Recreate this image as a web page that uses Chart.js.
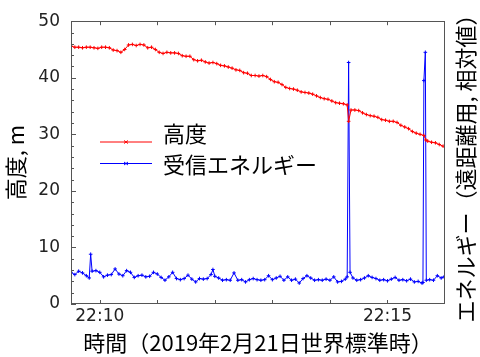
<!DOCTYPE html>
<html><head><meta charset="utf-8">
<script src="https://cdn.jsdelivr.net/npm/chart.js@4"></script>
<style>html,body{margin:0;padding:0;background:#fff}#wrap{width:480px;height:357px}</style>
</head><body><div id="wrap"><canvas id="c" width="480" height="357"></canvas></div>
<script>
// time in seconds after 22:09:30 UTC
const altitudeTime = [0,4,8,12,16,20,24,28,32,36,40,44,48,52,56,60,64,68,72,76,80,84,88,92,96,100,104,108,112,116,120,124,128,132,136,140,144,148,152,156,160,164,168,172,176,180,184,188,192,196,200,204,208,212,216,220,224,228,232,236,240,244,248,252,256,260,264,268,272,276,280,284,288,289.5,292,296,300,304,308,312,316,320,324,328,332,336,340,344,348,352,356,360,364,368,370,372,376,380,384,388];
const altitudeValues = [45.6,45.4,45.4,45.3,45.4,45.4,45.3,45.2,45.4,45.4,45.3,44.9,44.8,44.5,45.0,45.8,45.9,45.7,45.9,45.8,45.3,45.4,45.0,44.5,44.3,44.5,44.4,44.4,44.3,43.9,43.8,43.8,43.2,43.0,43.1,42.8,42.6,42.7,42.5,42.2,42.1,41.9,41.7,41.4,41.3,40.9,40.8,40.4,40.4,40.3,40.4,40.2,39.7,39.3,39.2,38.8,38.3,38.1,38.0,37.8,37.5,37.4,37.3,37.1,36.8,36.5,36.3,36.2,35.9,35.6,35.5,35.4,35.2,32.3,34.3,34.3,34.2,33.8,33.5,33.3,33.2,33.0,32.6,32.5,32.3,32.3,32.1,31.6,31.3,31.0,30.5,30.2,30.0,29.8,29.0,28.8,28.6,28.5,28.2,27.9];
const energyTime = [0,4,8,12,16,19,20.5,22,26,30,34,38,42,46,50,54,58,62,66,70,74,78,82,86,90,94,98,102,106,110,114,118,122,126,130,134,138,142,146,148,150,154,158,162,166,170,174,178,182,186,190,194,198,202,206,210,214,218,222,226,230,234,238,242,246,250,254,258,262,266,270,274,278,282,286,288,289.5,291,294,298,302,306,310,314,318,322,326,330,334,338,342,346,350,354,358,362,366,367,368,369.5,370.5,374,378,382,386,389];
const energyValues = [5.6,5.2,5.8,5.5,5.0,4.6,8.8,5.8,5.9,5.6,4.8,5.1,5.2,6.2,5.3,5.0,5.9,5.6,4.7,5.0,5.1,4.8,4.9,5.6,5.3,4.7,4.2,4.8,5.6,4.5,4.3,4.5,5.1,4.4,3.9,4.5,4.4,4.5,5.2,6.1,4.9,4.6,4.2,4.3,4.2,5.5,4.2,4.3,3.9,4.3,4.5,4.3,4.2,4.3,5.0,4.3,4.6,4.9,4.2,4.8,4.2,4.4,3.7,4.5,5.0,4.6,4.2,4.3,4.2,4.4,4.2,4.8,3.9,4.0,4.4,4.8,42.7,5.6,4.6,4.2,4.3,4.6,5.0,4.7,4.5,4.2,4.3,4.1,4.4,4.7,4.2,4.3,4.1,4.4,3.9,4.0,3.7,3.8,39.5,44.5,4.2,4.3,4.2,5.0,4.6,4.8];
const xTickValues = [30,90,150,210,270,330];
const xTickLabels = ['22:10','','','','','22:15'];
const seriesNames = ['高度','受信エネルギー'];
const xTitle = '時間（2019年2月21日世界標準時）';
const yTitle = '高度, m';
const y2Title = 'エネルギー（遠距離用, 相対値）';

const RED = 'rgb(255,0,0)', BLUE = 'rgb(0,0,255)';
const CJK = "'Noto Sans CJK JP', 'Noto Sans', sans-serif";

const toPts = (t, v) => t.map((x, i) => ({x, y: v[i]}));

const deco = {
  id: 'deco',
  afterDatasetsDraw(chart) {
    const {ctx, chartArea: a, scales: {x, y}} = chart;
    ctx.save();
    ctx.strokeStyle = '#555';
    ctx.lineWidth = 1;
    ctx.beginPath();
    x.ticks.forEach(t => {
      const px = Math.round(x.getPixelForValue(t.value)) + 0.5;
      ctx.moveTo(px, a.bottom); ctx.lineTo(px, a.bottom - 4);
      ctx.moveTo(px, a.top); ctx.lineTo(px, a.top + 4);
    });
    y.ticks.forEach(t => {
      const py = Math.round(y.getPixelForValue(t.value)) + 0.5;
      const len = t.value % 10 === 0 ? 5 : 3;
      ctx.moveTo(a.left, py); ctx.lineTo(a.left + len, py);
    });
    ctx.stroke();
    ctx.strokeRect(Math.round(a.left) + 0.5, Math.round(a.top) + 0.5,
      Math.round(a.right - a.left) - 1, Math.round(a.bottom - a.top) - 1);

    // legend
    const rows = [{c: RED, ly: 142, ty: 134}, {c: BLUE, ly: 163.5, ty: 165}];
    ctx.font = '22px ' + CJK;
    ctx.textBaseline = 'middle';
    ctx.textAlign = 'left';
    rows.forEach((r, i) => {
      ctx.strokeStyle = r.c;
      ctx.beginPath();
      ctx.moveTo(a.left + 29, r.ly); ctx.lineTo(a.left + 81, r.ly);
      ctx.stroke();
      ctx.beginPath();
      ctx.moveTo(a.left + 53, r.ly - 1.5); ctx.lineTo(a.left + 57, r.ly + 1.5);
      ctx.moveTo(a.left + 57, r.ly - 1.5); ctx.lineTo(a.left + 53, r.ly + 1.5);
      ctx.stroke();
      ctx.fillStyle = '#000';
      ctx.fillText(seriesNames[i], a.left + 92, r.ty);
    });

    // right title
    ctx.translate(466, 163);
    ctx.rotate(-Math.PI / 2);
    ctx.textAlign = 'center';
    ctx.fillText(y2Title, 0, 0);
    ctx.restore();
  }
};

new Chart(document.getElementById('c'), {
  type: 'line',
  data: {
    datasets: [
      {label: seriesNames[0], data: toPts(altitudeTime, altitudeValues), borderColor: RED, backgroundColor: RED,
       borderWidth: 1, pointStyle: 'cross', pointRadius: 1.8, pointBorderWidth: 1, pointBorderColor: RED, tension: 0},
      {label: seriesNames[1], data: toPts(energyTime, energyValues), borderColor: BLUE, backgroundColor: BLUE,
       borderWidth: 1, pointStyle: 'cross', pointRadius: 1.8, pointBorderWidth: 1, pointBorderColor: BLUE, tension: 0}
    ]
  },
  options: {
    responsive: false,
    animation: false,
    devicePixelRatio: 1,
    layout: {padding: {top: 16, right: 35, bottom: 0, left: 0}},
    plugins: {legend: {display: false}, tooltip: {enabled: false}},
    scales: {
      x: {
        type: 'linear', min: 0, max: 390,
        afterBuildTicks: s => { s.ticks = xTickValues.map(v => ({value: v})); },
        afterFit: s => { s.height = 53; },
        grid: {display: false, drawTicks: false},
        border: {display: false},
        ticks: {
          autoSkip: false, maxRotation: 0, padding: 2,
          color: '#222', font: {family: "'DejaVu Sans'", size: 17},
          callback: v => { const i = xTickValues.indexOf(v); return i >= 0 ? xTickLabels[i] : ''; }
        },
        title: {display: true, text: xTitle, color: '#000', font: {family: CJK, size: 22}, padding: {top: 0, bottom: 1}}
      },
      y: {
        type: 'linear', min: 0, max: 50,
        afterFit: s => { s.width = 71; },
        grid: {display: false, drawTicks: false},
        border: {display: false},
        ticks: {
          stepSize: 2, autoSkip: false, padding: 11,
          color: '#222', font: {family: "'DejaVu Sans'", size: 17},
          callback: v => (v % 10 === 0 ? v : '')
        },
        title: {display: true, text: yTitle, color: '#000', font: {family: CJK, size: 22}, padding: {top: 2, bottom: 0}}
      }
    }
  },
  plugins: [deco]
});
</script>
</body></html>
